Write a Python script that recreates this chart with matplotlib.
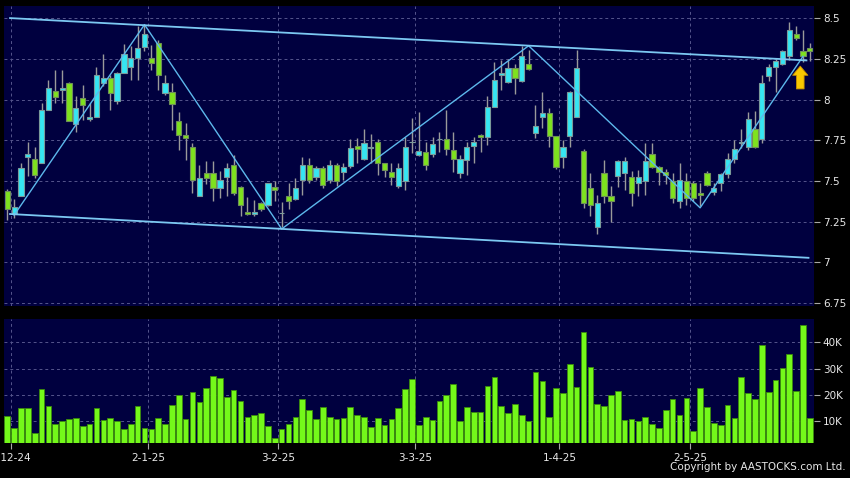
import numpy as np
import matplotlib
matplotlib.use('Agg')
from matplotlib import pyplot as plt
from matplotlib import font_manager

# daily candles, 2 Dec 2024 .. end of May 2025 (HK trading days)
opens = [7.44, 7.30, 7.41, 7.645, 7.635, 7.61, 7.935, 8.055, 8.06, 8.10,
         7.85, 8.01, 7.88, 7.895, 8.10, 8.135, 7.99, 8.165, 8.20, 8.255,
         8.325, 8.255, 8.345, 8.04, 8.045, 7.87, 7.785, 7.71, 7.405, 7.55,
         7.55, 7.455, 7.525, 7.595, 7.465, 7.31, 7.30, 7.365, 7.35, 7.465,
         7.305, 7.405, 7.39, 7.505, 7.595, 7.525, 7.58, 7.505, 7.595, 7.555,
         7.59, 7.715, 7.635, 7.70, 7.74, 7.61, 7.555, 7.47, 7.50, 7.74,
         7.66, 7.675, 7.665, 7.755, 7.755, 7.69, 7.55, 7.63, 7.715, 7.785,
         7.77, 7.955, 8.15, 8.105, 8.195, 8.115, 8.215, 7.795, 7.895, 7.915,
         7.775, 7.645, 7.775, 7.895, 7.685, 7.455, 7.22, 7.55, 7.41, 7.53,
         7.55, 7.525, 7.485, 7.50, 7.665, 7.585, 7.555, 7.50, 7.375, 7.50,
         7.485, 7.425, 7.55, 7.435, 7.485, 7.54, 7.635, 7.73, 7.71, 7.82,
         7.755, 8.145, 8.20, 8.22, 8.265, 8.40, 8.295, 8.315]
highs = [7.45, 7.39, 7.61, 7.74, 7.71, 7.98, 8.12, 8.18, 8.18, 8.11,
         8.02, 8.09, 7.98, 8.20, 8.28, 8.15, 8.17, 8.34, 8.33, 8.45,
         8.46, 8.335, 8.365, 8.15, 8.10, 7.925, 7.855, 7.73, 7.60, 7.62,
         7.62, 7.56, 7.61, 7.66, 7.47, 7.40, 7.38, 7.37, 7.49, 7.50,
         7.37, 7.49, 7.515, 7.65, 7.64, 7.59, 7.59, 7.63, 7.61, 7.61,
         7.76, 7.765, 7.82, 7.79, 7.76, 7.61, 7.61, 7.61, 7.77, 7.885,
         7.925, 7.74, 7.77, 7.80, 7.935, 7.80, 7.66, 7.74, 7.77, 7.79,
         8.02, 8.23, 8.24, 8.25, 8.22, 8.33, 8.305, 7.965, 8.045, 7.945,
         7.775, 7.75, 8.05, 8.305, 7.695, 7.55, 7.415, 7.63, 7.47, 7.63,
         7.65, 7.56, 7.57, 7.73, 7.73, 7.59, 7.575, 7.55, 7.61, 7.55,
         7.50, 7.49, 7.56, 7.49, 7.55, 7.67, 7.75, 7.82, 7.925, 7.93,
         8.15, 8.22, 8.25, 8.305, 8.475, 8.45, 8.425, 8.345]
lows = [7.26, 7.27, 7.41, 7.53, 7.52, 7.61, 7.935, 7.98, 7.98, 7.87,
        7.80, 7.875, 7.87, 7.895, 8.08, 7.935, 7.97, 8.16, 8.12, 8.12,
        8.295, 8.18, 8.06, 8.03, 7.815, 7.69, 7.63, 7.425, 7.405, 7.48,
        7.375, 7.395, 7.405, 7.415, 7.285, 7.29, 7.285, 7.315, 7.345, 7.375,
        7.22, 7.33, 7.385, 7.415, 7.487, 7.505, 7.457, 7.487, 7.467, 7.503,
        7.579, 7.61, 7.63, 7.61, 7.535, 7.525, 7.473, 7.455, 7.446, 7.67,
        7.655, 7.57, 7.646, 7.68, 7.66, 7.552, 7.518, 7.538, 7.61, 7.675,
        7.722, 7.955, 8.06, 8.10, 8.034, 8.11, 8.18, 7.765, 7.824, 7.711,
        7.575, 7.579, 7.711, 7.895, 7.334, 7.283, 7.175, 7.366, 7.245, 7.46,
        7.446, 7.345, 7.405, 7.415, 7.58, 7.477, 7.48, 7.366, 7.334, 7.354,
        7.374, 7.344, 7.47, 7.415, 7.436, 7.52, 7.61, 7.70, 7.691, 7.70,
        7.732, 8.116, 8.048, 8.212, 8.24, 8.365, 8.23, 8.238]
closes = [7.33, 7.34, 7.58, 7.665, 7.535, 7.935, 8.07, 8.015, 8.07, 7.87,
          7.945, 7.965, 7.895, 8.15, 8.135, 8.04, 8.165, 8.28, 8.255, 8.315,
          8.40, 8.225, 8.15, 8.10, 7.975, 7.785, 7.765, 7.505, 7.52, 7.52,
          7.455, 7.505, 7.58, 7.425, 7.35, 7.30, 7.31, 7.33, 7.485, 7.445,
          7.305, 7.375, 7.455, 7.595, 7.505, 7.58, 7.475, 7.595, 7.50, 7.585,
          7.705, 7.695, 7.735, 7.71, 7.61, 7.565, 7.525, 7.58, 7.71, 7.74,
          7.685, 7.60, 7.725, 7.755, 7.695, 7.635, 7.635, 7.71, 7.74, 7.77,
          7.955, 8.12, 8.165, 8.195, 8.135, 8.265, 8.185, 7.835, 7.915, 7.775,
          7.585, 7.71, 8.045, 8.195, 7.365, 7.35, 7.365, 7.41, 7.375, 7.62,
          7.625, 7.425, 7.525, 7.625, 7.585, 7.555, 7.535, 7.395, 7.505, 7.395,
          7.395, 7.415, 7.475, 7.455, 7.54, 7.635, 7.695, 7.74, 7.88, 7.71,
          8.10, 8.20, 8.235, 8.30, 8.425, 8.375, 8.265, 8.295]
volume_k = [11.8, 7.3, 15.0, 15.0, 5.4, 22.0, 15.8, 8.9, 9.9, 10.8,
            10.9, 8.1, 8.6, 15.0, 10.4, 11.2, 10.0, 6.7, 8.7, 15.5,
            7.3, 6.7, 11.2, 8.7, 16.0, 20.0, 10.8, 21.1, 17.3, 22.5,
            27.0, 26.5, 19.0, 21.8, 17.7, 11.4, 12.3, 12.9, 8.0, 3.4,
            6.7, 8.7, 11.4, 18.2, 14.2, 10.7, 15.2, 11.3, 10.8, 11.0,
            15.2, 12.2, 11.4, 7.6, 11.2, 8.4, 10.8, 14.9, 22.1, 25.9,
            8.4, 11.5, 10.2, 17.5, 20.0, 23.9, 10.0, 15.2, 13.2, 13.2,
            23.4, 26.7, 15.5, 12.9, 16.3, 12.0, 9.9, 28.7, 25.3, 11.3,
            22.4, 20.5, 31.7, 23.0, 44.1, 30.4, 16.3, 15.6, 19.8, 21.5,
            10.2, 10.5, 9.9, 11.3, 8.7, 7.3, 14.0, 18.2, 12.3, 18.7,
            6.2, 22.6, 15.2, 9.2, 8.5, 15.9, 11.2, 26.6, 20.6, 18.4,
            38.9, 21.1, 25.6, 30.1, 35.6, 21.3, 46.7, 11.0]

date_labels = ['2-12-24', '2-1-25', '3-2-25', '3-3-25', '1-4-25', '2-5-25']
date_index = [0, 20, 39, 59, 80, 99]

# zigzag swing points and trend channel (index, price)
zz_index = [1, 20, 40, 76, 101, 116]
zz_price = [7.29, 8.46, 7.205, 8.33, 7.335, 8.265]
upper_index = [0.4, 116.5]
upper_price = [8.50, 8.24]
lower_index = [0.4, 116.8]
lower_price = [7.297, 7.028]
signal_index = 115.6
signal_price = (8.065, 8.205)

price_ticks = [6.75, 7, 7.25, 7.5, 7.75, 8, 8.25, 8.5]
vol_ticks = [10, 20, 30, 40]

names = {f.name for f in font_manager.fontManager.ttflist}
if 'Liberation Sans Narrow' in names:
    FONT, FS = 'Liberation Sans Narrow', 10
else:
    FONT, FS = 'DejaVu Sans', 7.5
plt.rcParams['font.family'] = FONT

BG = '#00003f'
GRID = '#55558c'
UP = '#36e6f2'
DOWN = '#7ee21e'
LINE = '#5db8ec'
TXT = '#e8e8e8'

o = np.array(opens)
h = np.array(highs)
l = np.array(lows)
c = np.array(closes)
x = np.arange(len(o))

fig = plt.figure(figsize=(8.5, 4.78), dpi=100, facecolor='black')
ax1 = fig.add_axes([0.0047, 0.3598, 0.9535, 0.6276], facecolor=BG)
ax2 = fig.add_axes([0.0047, 0.0726, 0.9535, 0.2600], facecolor=BG)

# candles
ax1.vlines(x, l, h, color='#9a9a9a', lw=1, zorder=2)
up = c >= o
body_h = np.abs(c - o)
ax1.bar(x[up], body_h[up], bottom=np.minimum(o, c)[up], width=0.76,
        color=UP, edgecolor='#7a9a9a', lw=0.8, zorder=3)
ax1.bar(x[~up], body_h[~up], bottom=np.minimum(o, c)[~up], width=0.76,
        color=DOWN, edgecolor='#6f8f5a', lw=0.8, zorder=3)

ax1.plot(zz_index, zz_price, color=LINE, lw=1, zorder=4)
ax1.plot(upper_index, upper_price, color='#7cc8f2', lw=1.3, zorder=4)
ax1.plot(lower_index, lower_price, color='#7cc8f2', lw=1.3, zorder=4)
ax1.annotate('', xy=(signal_index, signal_price[1]), xytext=(signal_index, signal_price[0]),
             arrowprops=dict(arrowstyle='simple,head_length=0.6,head_width=1.0,tail_width=0.5',
                             mutation_scale=11, fc='#f8c800', ec='#c89000', lw=0.6,
                             shrinkA=0, shrinkB=0),
             zorder=5)

# volume
ax2.bar(x, np.array(volume_k) * 1000, width=0.82, color='#74f81a',
        edgecolor='#3a8a0c', lw=0.6, zorder=3)

grid_x = [i + 0.5 for i in date_index]
for ax in (ax1, ax2):
    ax.set_xlim(-0.48, 117.67)
    for s in ax.spines.values():
        s.set_visible(False)
    ax.set_xticks(grid_x)
    ax.yaxis.tick_right()
    ax.tick_params(axis='y', colors='#a8a8a8', labelcolor=TXT, length=4,
                   width=0.8, labelsize=FS, pad=2)
    ax.grid(True, color=GRID, lw=0.7, ls=(0, (3, 3)), zorder=0)

ax1.set_ylim(6.732, 8.574)
ax1.set_yticks(price_ticks)
ax1.set_yticklabels([f'{v:g}' for v in price_ticks])
ax1.tick_params(axis='x', length=0, labelbottom=False)

ax2.set_ylim(1340, 48970)
ax2.set_yticks([v * 1000 for v in vol_ticks])
ax2.set_yticklabels([f'{v}K' for v in vol_ticks])
ax2.set_xticklabels(date_labels)
ax2.tick_params(axis='x', colors='#a8a8a8', labelcolor=TXT, length=4,
                width=0.8, labelsize=FS, pad=3)

fig.text(0.995, 0.012, 'Copyright by AASTOCKS.com Ltd.', color=TXT,
         fontsize=FS, ha='right', va='bottom')

fig.savefig('out.png', dpi=100, facecolor='black')
plt.close(fig)
